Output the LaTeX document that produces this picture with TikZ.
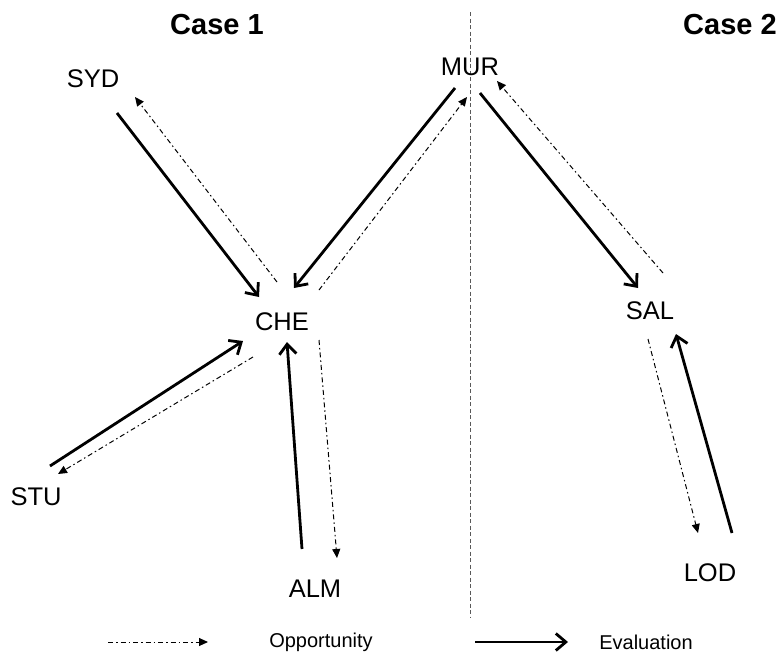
\documentclass[tikz,border=0pt]{standalone}
\usepackage{fontspec}
\setmainfont{Liberation Sans}
\usetikzlibrary{arrows.meta}
\begin{document}
\begin{tikzpicture}[x=1pt,y=-1pt,
  lbl/.style={font=\fontsize{25.5}{30}\selectfont, inner sep=0pt, anchor=center},
  title/.style={font=\fontsize{29}{34}\selectfont\bfseries, inner sep=0pt, anchor=center},
  legtext/.style={font=\fontsize{20}{24}\selectfont, inner sep=0pt, anchor=center},
  evalarrow/.style={line width=2.8pt, -{Straight Barb[length=10pt,width=17pt,line width=2.8pt]}},
  opparrow/.style={line width=1pt, dash pattern=on 5pt off 3pt on 1.5pt off 3pt, -{Triangle[length=9pt,width=8pt]}},
  divider/.style={line width=1pt, draw=gray!70!black, dash pattern=on 4pt off 2.5pt}
]
\useasboundingbox (0,0) rectangle (780,659);

% titles
\node[title] (case1) at (217,25) {Case 1};
\node[title] (case2) at (730,25) {Case 2};

% divider
\coordinate (divtop) at (470,12);
\coordinate (divbot) at (470,617);
\draw[divider] (divtop) -- (divbot);

% nodes
\node[lbl] (syd) at (93,79) {SYD};
\node[lbl] (mur) at (470,67) {MUR};
\node[lbl] (che) at (282,322) {CHE};
\node[lbl] (sal) at (650,311) {SAL};
\node[lbl] (stu) at (36,497) {STU};
\node[lbl] (alm) at (315,589) {ALM};
\node[lbl] (lod) at (710,573) {LOD};

% SYD <-> CHE
\draw[evalarrow] ([shift={(24,34)}]syd.center) -- ([shift={(-23,-25)}]che.center);
\draw[opparrow] ([shift={(-5,-40)}]che.center) -- ([shift={(42,18)}]syd.center);
% MUR <-> CHE
\draw[evalarrow] ([shift={(-15,21)}]mur.center) -- ([shift={(12,-34)}]che.center);
\draw[opparrow] ([shift={(37,-32)}]che.center) -- ([shift={(-3,30)}]mur.center);
% MUR <-> SAL
\draw[evalarrow] ([shift={(10,26)}]mur.center) -- ([shift={(-12,-23)}]sal.center);
\draw[opparrow] ([shift={(13,-38)}]sal.center) -- ([shift={(27,14)}]mur.center);
% STU <-> CHE
\draw[evalarrow] ([shift={(14,-31)}]stu.center) -- ([shift={(-39,19)}]che.center);
\draw[opparrow] ([shift={(-29,35)}]che.center) -- ([shift={(22,-23)}]stu.center);
% ALM <-> CHE
\draw[evalarrow] ([shift={(-13,-40)}]alm.center) -- ([shift={(5,20)}]che.center);
\draw[opparrow] ([shift={(37,18)}]che.center) -- ([shift={(22,-31)}]alm.center);
% SAL <-> LOD
\draw[opparrow] ([shift={(-2,28)}]sal.center) -- ([shift={(-12,-40)}]lod.center);
\draw[evalarrow] ([shift={(22,-40)}]lod.center) -- ([shift={(26,23)}]sal.center);

% legend
\coordinate (oppA) at (108,642);
\coordinate (oppB) at (208,642);
\draw[opparrow] (oppA) -- (oppB);
\node[legtext] (opptext) at (321,642) {Opportunity};
\coordinate (evalA) at (475,642);
\coordinate (evalB) at (568,642);
\draw[evalarrow] (evalA) -- (evalB);
\node[legtext] (evaltext) at (646,642) {Evaluation};
\end{tikzpicture}
\end{document}
